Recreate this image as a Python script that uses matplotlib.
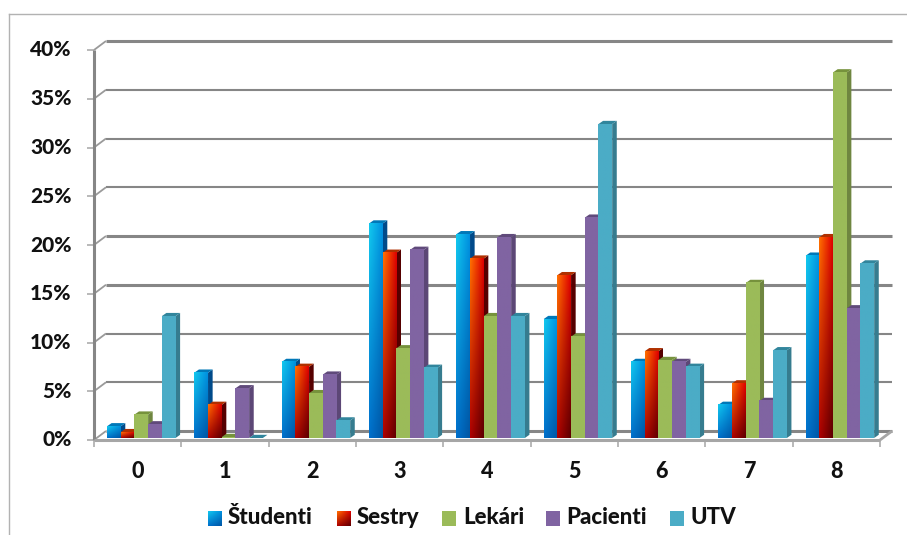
import numpy as np
import matplotlib
matplotlib.use('Agg')
import matplotlib.pyplot as plt
from matplotlib.lines import Line2D
from matplotlib.patches import Polygon

categories = ['0', '1', '2', '3', '4', '5', '6', '7', '8']
series_names = ['Študenti', 'Sestry', 'Lekári', 'Pacienti', 'UTV']
studenti = [1.2, 6.7, 7.8, 22.0, 20.9, 12.2, 7.8, 3.4, 18.7]
sestry = [0.6, 3.4, 7.3, 19.0, 18.4, 16.7, 8.9, 5.6, 20.6]
lekari = [2.4, 0.1, 4.6, 9.2, 12.5, 10.4, 8.0, 15.9, 37.5]
pacienti = [1.4, 5.1, 6.5, 19.3, 20.6, 22.6, 7.8, 3.8, 13.3]
utv = [12.5, 0.0, 1.8, 7.2, 12.5, 32.2, 7.3, 9.0, 17.9]
y_ticks = [0, 5, 10, 15, 20, 25, 30, 35, 40]

all_values = [studenti, sestry, lekari, pacienti, utv]

W, H = 907, 535
LEFT, RIGHT, TOP, BOTTOM = 94, 880, 50, 440
PX_X = len(categories) / (RIGHT - LEFT)
PX_Y = 40 / (BOTTOM - TOP)

# corner colours of each bar face: top-left, top-right, bottom-left, bottom-right
faces = [
    ('#12c8ee', '#0090e0', '#0070cc', '#0056a4'),
    ('#ff7000', '#e00000', '#b00000', '#5c0000'),
    ('#9bbb59', '#9bbb59', '#9bbb59', '#9bbb59'),
    ('#8064a2', '#8064a2', '#8064a2', '#8064a2'),
    ('#4bacc6', '#4bacc6', '#4bacc6', '#4bacc6'),
]
sides = ['#004a8a', '#560000', '#6f8640', '#5c4776', '#367c8f']
tops = ['#0078b8', '#b03000', '#76923c', '#604a7b', '#31859c']

plt.rcParams['font.family'] = ['Lato', 'DejaVu Sans']

fig = plt.figure(figsize=(W / 100, H / 100), dpi=100)
ax = fig.add_axes([LEFT / W, 1 - BOTTOM / H, (RIGHT - LEFT) / W, (BOTTOM - TOP) / H])
ax.axis('off')


def gradient(corners):
    tl, tr, bl, br = [np.array(matplotlib.colors.to_rgb(c)) for c in corners]
    u = np.linspace(0, 1, 24)[None, :, None]
    v = np.linspace(0, 1, 48)[:, None, None]
    return (tl * (1 - u) + tr * u) * (1 - v) + (bl * (1 - u) + br * u) * v


def line(xs, ys, lw=1.0, color='#868686', z=1):
    ax.plot(xs, ys, color=color, lw=lw, clip_on=False, zorder=z, solid_capstyle='butt')


wall_x = 12 * PX_X
wall_y = 9 * PX_Y
n = len(categories)

# floor and back wall gridlines
ax.add_patch(Polygon([(0, 0), (n, 0), (n + wall_x, wall_y), (wall_x, wall_y)],
                     closed=True, fc='white', ec='none', clip_on=False, zorder=0))
for t in y_ticks:
    lw = 2.2 if t in (0, 15, 20, 40) else 1.5
    line([wall_x, n + wall_x], [t + wall_y, t + wall_y], lw=lw)
    line([0, wall_x], [t, t + wall_y], lw=1.3, color='#9a9a9a')
    line([-7 * PX_X, 0], [t, t], lw=1.1, color='#a6a6a6')
    ax.text(-22.5 * PX_X, t, f'{t}%', ha='right', va='center', fontsize=15,
            fontweight='black', color='#111111')

line([0, 0], [0, 40], lw=2.2, color='#868686', z=1)
line([n, n + wall_x], [0, wall_y], lw=2.0, color='#a6a6a6', z=1)
line([0, n], [0, 0], lw=2.2, color='#a6a6a6', z=40)
for i in range(n + 1):
    line([i, i], [0, -7 * PX_Y], lw=1.1, color='#a6a6a6', z=40)

# bars, drawn left to right so each one hides the side of the previous one
bar_w = 13.7 * PX_X
depth_x = 4.6 * PX_X
depth_y = 3.2 * PX_Y
base = 2 * PX_Y
start = 13 * PX_X
z = 5
for i in range(n):
    for s, values in enumerate(all_values):
        x0 = i + start + s * bar_w
        x1 = x0 + bar_w
        top = base + values[i]
        ax.add_patch(Polygon([(x1, base), (x1 + depth_x, base + depth_y),
                              (x1 + depth_x, top + depth_y), (x1, top)],
                             closed=True, fc=sides[s], ec='none', clip_on=False, zorder=z))
        ax.add_patch(Polygon([(x0, top), (x1, top), (x1 + depth_x, top + depth_y),
                              (x0 + depth_x, top + depth_y)],
                             closed=True, fc=tops[s], ec='none', clip_on=False, zorder=z))
        if values[i] > 0:
            ax.imshow(gradient(faces[s]), extent=(x0, x1, base, top), aspect='auto',
                      interpolation='bilinear', zorder=z + 0.5, clip_on=False)
        z += 1

for i, c in enumerate(categories):
    ax.text(i + 0.5, -31 * PX_Y, c, ha='center', va='center', fontsize=15.5,
            fontweight='black', color='#111111')

# legend
legend_x = [208, 337, 442, 546, 670]
text_x = [228, 357, 463, 566, 691]
for s, name in enumerate(series_names):
    lx = (legend_x[s] - LEFT) * PX_X
    ly = (BOTTOM - 511) * PX_Y
    ax.imshow(gradient(faces[s]), extent=(lx, lx + 14 * PX_X, ly - 15 * PX_Y, ly), aspect='auto',
              interpolation='bilinear', clip_on=False, zorder=50)
    ax.text((text_x[s] - LEFT) * PX_X, ly - 7 * PX_Y, name, ha='left', va='center',
            fontsize=16, fontweight='black', color='#111111')

ax.set_xlim(0, n)
ax.set_ylim(0, 40)

# chart frame, cut by the picture edge on the right and at the bottom
fig.add_artist(Line2D([9 / W, 1], [1 - 14 / H, 1 - 14 / H], color='#b2b2b2', lw=1.0))
fig.add_artist(Line2D([9 / W, 9 / W], [0, 1 - 14 / H], color='#b2b2b2', lw=1.0))

fig.savefig('out.png', dpi=100)
